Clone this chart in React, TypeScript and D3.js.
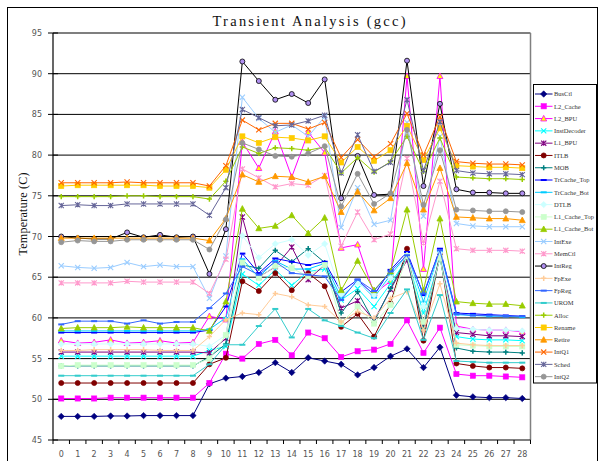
import React from 'react';
import * as d3 from 'd3';

const categories = ['0','1','2','3','4','5','6','7','8','9','10','11','12','13','14','15','16','17','18','19','20','21','22','23','24','25','26','27','28'];
const yTicks = [45, 50, 55, 60, 65, 70, 75, 80, 85, 90, 95];

const busCtl = [47.9,47.9,47.9,47.95,47.95,48.0,48.0,48.0,48.0,51.9,52.6,52.8,53.3,54.5,53.3,55.1,54.7,54.3,53.0,53.9,55.3,56.2,53.9,56.4,50.5,50.3,50.2,50.2,50.1];
const l2Cache = [50.1,50.1,50.1,50.2,50.2,50.2,50.2,50.2,50.2,52.0,55.6,55.0,56.8,57.3,55.4,58.2,57.5,55.2,55.9,56.1,56.8,59.7,55.7,58.8,53.1,52.9,52.9,52.8,52.7];
const l2Bpu = [57.2,56.9,57.0,57.3,56.9,57.0,57.2,56.9,57.0,60.2,59.8,81.6,78.4,82.9,77.3,82.8,80.3,68.6,69.0,63.0,64.5,89.7,66.0,89.7,59.0,58.6,58.5,58.5,58.3];
const instDecoder = [55.3,55.3,55.3,55.3,55.3,55.3,55.3,55.3,55.3,56.0,56.5,65.4,64.0,65.9,64.0,65.7,66.0,62.2,63.6,61.4,64.2,67.3,60.6,67.3,57.7,57.4,57.3,57.3,57.2];
const l1Bpu = [55.8,55.8,55.8,55.8,55.8,55.8,55.8,55.8,55.8,55.7,57.5,72.4,65.0,66.3,68.7,64.7,66.5,61.2,62.1,59.7,63.5,67.1,59.3,67.7,58.2,58.0,57.8,57.8,57.7];
const itlb = [52.0,52.0,52.0,52.0,52.0,52.0,52.0,52.0,52.0,54.3,55.1,64.5,63.3,65.5,63.4,65.5,63.9,58.9,60.5,57.7,61.8,68.5,57.2,67.9,54.4,54.1,53.9,53.9,53.8];
const mob = [54.1,54.1,54.1,54.1,54.1,54.1,54.1,54.1,54.1,55.2,56.8,66.5,66.1,68.3,66.9,68.5,66.8,60.6,63.2,59.5,63.6,67.5,58.7,67.5,56.3,55.9,55.8,55.8,55.7];
const trCacheTop = [58.2,58.2,58.2,58.2,58.2,58.2,58.2,58.2,58.2,58.5,61.4,67.9,65.5,67.3,66.9,66.5,66.9,63.2,64.7,62.8,65.9,68.1,62.8,68.5,60.6,60.5,60.4,60.3,60.2];
const trCacheBot = [58.4,58.4,58.4,58.4,58.4,58.4,58.4,58.4,58.4,58.6,60.0,67.2,65.0,67.0,66.0,66.0,66.7,62.5,64.5,62.5,65.3,67.7,62.0,68.2,60.4,60.3,60.2,60.2,60.1];
const dtlb = [56.8,56.8,56.8,56.8,56.8,56.8,56.8,56.8,56.8,56.5,57.9,70.1,67.4,69.1,69.6,67.7,69.1,62.9,64.3,62.8,64.9,67.7,61.4,68.0,58.7,58.6,58.5,58.5,58.4];
const l1CacheTop = [54.1,54.2,54.2,54.2,54.2,54.2,54.2,54.2,54.2,55.0,57.9,66.8,64.9,66.4,66.1,65.1,66.5,59.4,61.4,59.3,61.6,67.6,59.5,67.4,56.7,56.6,56.5,56.5,56.5];
const l1CacheBot = [58.7,58.8,58.8,58.8,58.9,58.8,58.8,58.8,58.8,58.4,62.0,73.4,71.0,71.3,72.6,70.4,72.3,63.4,67.0,63.4,65.7,73.3,63.4,72.2,62.0,61.8,61.7,61.7,61.5];
const intExe = [66.4,66.2,66.1,66.2,66.8,66.3,66.5,66.3,66.3,62.4,67.6,87.1,84.5,82.8,83.7,82.3,84.7,71.1,76.0,71.5,72.0,84.0,72.5,82.3,71.6,71.3,71.2,71.2,71.2];
const memCtl = [64.3,64.3,64.3,64.3,64.5,64.4,64.4,64.4,64.4,63.0,67.2,78.3,77.2,76.1,76.5,76.3,77.5,68.8,73.0,69.6,70.3,79.6,69.2,76.8,68.5,68.3,68.3,68.3,68.2];
const intReg = [70.0,69.8,69.7,69.7,70.5,69.9,70.2,69.9,70.0,65.4,70.9,91.5,89.1,86.8,87.5,86.4,89.3,74.7,79.9,75.1,75.2,91.6,76.2,86.3,75.8,75.4,75.4,75.3,75.3];
const fpExe = [56.0,56.0,56.1,56.1,56.1,56.1,56.0,56.0,56.0,57.7,59.8,60.6,60.4,63.0,62.6,61.6,61.4,59.5,60.8,60.0,62.4,63.2,58.5,64.2,56.9,56.7,56.6,56.6,56.6];
const fpReg = [59.2,59.6,59.6,59.6,59.3,59.7,59.3,59.5,59.5,61.2,63.0,66.3,65.3,66.9,65.5,65.3,65.1,62.2,64.7,63.3,65.7,67.7,63.0,68.3,60.5,60.3,60.3,60.2,60.2];
const urom = [52.9,52.9,52.9,52.9,52.9,52.9,52.9,52.9,52.9,54.3,56.7,56.7,59.0,61.1,57.6,61.1,59.7,59.0,58.2,57.5,60.6,63.5,57.3,62.8,54.7,54.6,54.5,54.5,54.5];
const alloc = [74.9,74.9,74.9,74.9,75.0,75.0,74.9,74.9,74.9,74.6,76.8,81.0,80.2,80.9,80.8,80.6,81.0,77.8,79.7,77.9,79.2,82.3,78.0,82.1,77.3,77.2,77.1,77.1,77.0];
const rename = [76.2,76.3,76.3,76.3,76.3,76.3,76.2,76.2,76.2,76.0,78.2,82.3,81.5,82.2,82.1,81.8,82.3,79.1,81.0,79.3,80.6,83.6,79.4,83.3,78.7,78.6,78.5,78.5,78.4];
const retire = [69.8,69.8,69.8,69.8,69.8,69.8,69.8,69.8,69.8,69.5,72.2,77.6,76.7,77.4,77.3,76.7,77.4,73.0,75.5,73.2,74.7,79.0,73.3,78.4,72.4,72.3,72.2,72.2,72.0];
const intQ1 = [76.6,76.6,76.6,76.6,76.7,76.6,76.6,76.6,76.6,76.2,78.7,84.3,83.1,83.9,83.9,83.2,84.0,79.7,81.9,79.8,81.4,85.1,80.0,84.7,79.2,79.0,78.9,78.9,78.8];
const sched = [73.8,73.9,73.8,73.8,74.0,74.0,74.0,74.0,74.0,72.6,76.0,85.6,84.6,83.6,83.7,84.2,84.9,77.8,82.5,78.0,79.1,86.8,78.1,84.1,78.1,77.8,77.7,77.7,77.6];
const intQ2 = [69.3,69.5,69.4,69.4,69.6,69.6,69.6,69.6,69.6,68.4,72.1,81.5,80.7,79.9,79.8,80.2,81.1,73.7,77.7,74.0,75.3,83.1,73.9,80.6,73.3,73.2,73.1,73.1,73.0];

const seriesNames = ['BusCtl','L2_Cache','L2_BPU','InstDecoder','L1_BPU','ITLB','MOB','TrCache_Top','TrCache_Bot','DTLB','L1_Cache_Top','L1_Cache_Bot','IntExe','MemCtl','IntReg','FpExe','FpReg','UROM','Alloc','Rename','Retire','IntQ1','Sched','IntQ2'];
const seriesValues = [busCtl,l2Cache,l2Bpu,instDecoder,l1Bpu,itlb,mob,trCacheTop,trCacheBot,dtlb,l1CacheTop,l1CacheBot,intExe,memCtl,intReg,fpExe,fpReg,urom,alloc,rename,retire,intQ1,sched,intQ2];
const lineColors = ['#000080','#FF00FF','#FF00FF','#00FFFF','#800080','#800000','#008080','#0000FF','#00CCFF','#CCFFFF','#CCFFCC','#99CC00','#99CCFF','#FF99CC','#000000','#FFCC99','#3366FF','#33CCCC','#99CC00','#FFCC00','#FF9900','#FF6600','#666699','#969696'];
const markerFills = ['#000080','#FF00FF','#FFFF00','#00FFFF','#800080','#800000','#008080','#0000FF','#00CCFF','#CCFFFF','#CCFFCC','#99CC00','#99CCFF','#FF99CC','#B090F0','#FFCC99','#3366FF','#33CCCC','#99CC00','#FFCC00','#FF9900','#FF6600','#666699','#969696'];
const markerTypes = ['diamond','square','triangle','x','star','circle','plus','dash','dash','diamond','square','triangle','x','star','circle','plus','dash','dash','plus','square','triangle','x','star','circle'];

const x = d3.scaleLinear().domain([-0.5, 28.5]).range([53, 530.5]);
const y = d3.scaleLinear().domain([45, 95]).range([440, 33]);
const lineGen = d3.line<number>().x((_, i) => x(i)).y((d) => y(d));

function Marker({ type, cx, cy, fill, stroke }: { type: string; cx: number; cy: number; fill: string; stroke: string }) {
  const s = 2.6;
  switch (type) {
    case 'diamond':
      return <path d={`M${cx},${cy - 3.2}L${cx + 3.2},${cy}L${cx},${cy + 3.2}L${cx - 3.2},${cy}Z`} fill={fill} stroke={stroke} strokeWidth={0.6} />;
    case 'square':
      return <rect x={cx - s} y={cy - s} width={2 * s} height={2 * s} fill={fill} stroke={stroke} strokeWidth={0.6} />;
    case 'triangle':
      return <path d={`M${cx},${cy - 3.2}L${cx + 3},${cy + 2.4}L${cx - 3},${cy + 2.4}Z`} fill={fill} stroke={stroke} strokeWidth={0.8} />;
    case 'x':
      return <path d={`M${cx - s},${cy - s}L${cx + s},${cy + s}M${cx - s},${cy + s}L${cx + s},${cy - s}`} stroke={stroke} strokeWidth={1.1} fill="none" />;
    case 'star':
      return <path d={`M${cx - s},${cy - s}L${cx + s},${cy + s}M${cx - s},${cy + s}L${cx + s},${cy - s}M${cx},${cy - s}L${cx},${cy + s}`} stroke={stroke} strokeWidth={1.1} fill="none" />;
    case 'circle':
      return <circle cx={cx} cy={cy} r={2.5} fill={fill} stroke={stroke} strokeWidth={0.8} />;
    case 'plus':
      return <path d={`M${cx - s},${cy}L${cx + s},${cy}M${cx},${cy - s}L${cx},${cy + s}`} stroke={stroke} strokeWidth={1.5} fill="none" />;
    case 'dash':
      return <path d={`M${cx - 3},${cy}L${cx + 3},${cy}`} stroke={stroke} strokeWidth={2} fill="none" />;
    default:
      return null;
  }
}

export default function App() {
  const legendY0 = 94;
  const legendStep = 12.29;
  return (
    <div style={{ position: 'absolute', left: 0, top: 0 }}>
      <svg width={600} height={461} style={{ display: 'block', background: '#fff' }}>
        <rect x={7.5} y={7.5} width={590} height={470} fill="#fff" stroke="#000" strokeWidth={1} />
        <text x={309} y={26} textAnchor="middle" fontFamily="'Liberation Serif', serif" fontSize={14.5} textLength={193} lengthAdjust="spacing" fill="#111">Transient Analysis (gcc)</text>
        {yTicks.filter((t) => t > 45).map((t) => (
          <line key={'g' + t} x1={53} x2={530.5} y1={y(t)} y2={y(t)} stroke={t === 95 ? '#555' : '#000'} strokeWidth={t === 95 ? 1.5 : 1} />
        ))}
        <line x1={530.5} x2={530.5} y1={33} y2={440} stroke="#808080" strokeWidth={1.5} />
        {seriesValues.map((vals, si) => (
          <g key={'s' + si}>
            <path d={lineGen(vals) || ''} fill="none" stroke={lineColors[si]} strokeWidth={1} />
            {vals.map((v, i) => (
              <Marker key={i} type={markerTypes[si]} cx={x(i)} cy={y(v)} fill={markerFills[si]} stroke={si === 2 ? '#FF00FF' : si === 14 ? '#000' : lineColors[si]} />
            ))}
          </g>
        ))}
        <line x1={53} x2={53} y1={33} y2={440} stroke="#000" strokeWidth={1.2} />
        <line x1={53} x2={530.5} y1={440} y2={440} stroke="#000" strokeWidth={1.2} />
        {yTicks.map((t) => (
          <g key={'yt' + t}>
            <line x1={48} x2={58} y1={y(t)} y2={y(t)} stroke="#000" strokeWidth={1} />
            <text x={42} y={y(t) + 3} textAnchor="end" fontFamily="'DejaVu Sans', sans-serif" fontSize={8} fill="#555">{t}</text>
          </g>
        ))}
        {categories.map((c, i) => (
          <g key={'xt' + i}>
            <line x1={x(i - 0.5)} x2={x(i - 0.5)} y1={440} y2={444} stroke="#000" strokeWidth={1} />
            <text x={x(i)} y={457} textAnchor="middle" fontFamily="'DejaVu Sans', sans-serif" fontSize={8} fill="#555">{c}</text>
          </g>
        ))}
        <line x1={x(28.5)} x2={x(28.5)} y1={440} y2={444} stroke="#000" strokeWidth={1} />
        <text transform="translate(27,214) rotate(-90)" textAnchor="middle" fontFamily="'Liberation Serif', serif" fontSize={12} textLength={83} lengthAdjust="spacing" fill="#111">Temperature (C)</text>
        <rect x={533.5} y={84.5} width={63} height={298.5} fill="#fff" stroke="#000" strokeWidth={1} />
        {seriesNames.map((n, si) => {
          const ly = legendY0 + si * legendStep;
          return (
            <g key={'l' + si}>
              <line x1={535} x2={552.5} y1={ly} y2={ly} stroke={lineColors[si]} strokeWidth={1} />
              <Marker type={markerTypes[si]} cx={543.7} cy={ly} fill={markerFills[si]} stroke={si === 2 ? '#FF00FF' : si === 14 ? '#000' : lineColors[si]} />
              <text x={554} y={ly + 2.3} fontFamily="'Liberation Serif', serif" fontSize={6.5} fill="#333">{n}</text>
            </g>
          );
        })}
      </svg>
    </div>
  );
}
